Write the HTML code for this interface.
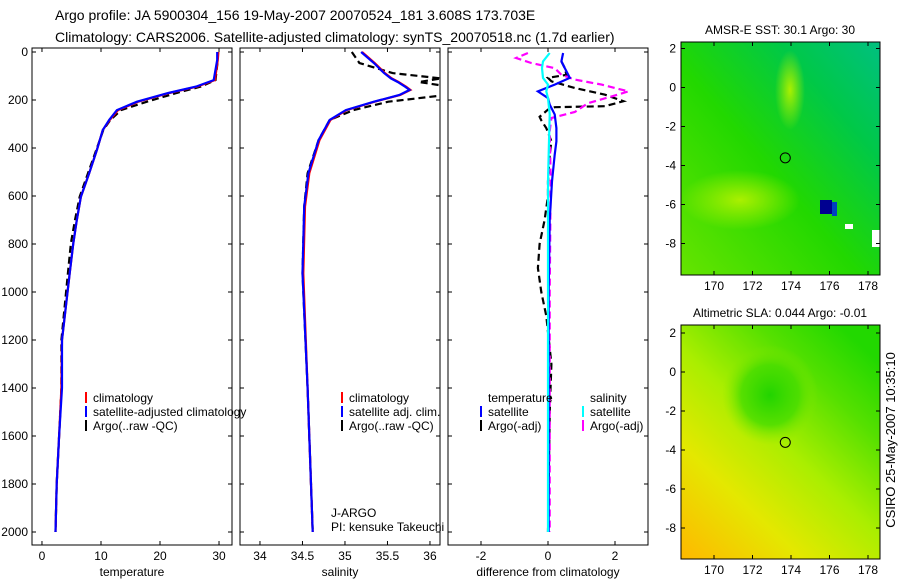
<!DOCTYPE html>
<html><head><meta charset="utf-8">
<style>
body{margin:0;background:#fff;}
svg{display:block;font-family:"Liberation Sans",sans-serif;}
text{fill:#000;}
</style></head>
<body>
<svg id="fig" width="900" height="580" viewBox="0 0 900 580" xmlns="http://www.w3.org/2000/svg">
<defs>
<linearGradient id="sstg" x1="0" y1="1" x2="1" y2="0">
<stop offset="0" stop-color="#66e400"/><stop offset="0.45" stop-color="#22d800"/><stop offset="0.75" stop-color="#00c848"/><stop offset="1" stop-color="#00c080"/>
</linearGradient>
<linearGradient id="slag" x1="0" y1="1" x2="0.8" y2="0">
<stop offset="0" stop-color="#ffb800"/><stop offset="0.3" stop-color="#e4e800"/><stop offset="0.55" stop-color="#aaee00"/><stop offset="0.8" stop-color="#55e000"/><stop offset="1" stop-color="#22d800"/>
</linearGradient>
<radialGradient id="slahole" cx="0.5" cy="0.5" r="0.5"><stop offset="0" stop-color="#22d400"/><stop offset="0.6" stop-color="#44dc00" stop-opacity="0.8"/><stop offset="1" stop-color="#88e800" stop-opacity="0"/></radialGradient>
<radialGradient id="sstwarm" cx="0.5" cy="0.5" r="0.5"><stop offset="0" stop-color="#aaf000"/><stop offset="1" stop-color="#aaf000" stop-opacity="0"/></radialGradient>
</defs>
<g>
<text x="55" y="20" font-size="14">Argo profile: JA 5900304_156 19-May-2007 20070524_181 3.608S 173.703E</text>
<text x="55" y="42" font-size="14">Climatology: CARS2006. Satellite-adjusted climatology: synTS_20070518.nc (1.7d earlier)</text>
</g>
<g id="panels"></g>
<g id="maps"></g>
<text font-size="13" transform="translate(895,440) rotate(-90)" text-anchor="middle">CSIRO 25-May-2007 10:35:10</text>
</svg>
<script>
// ---- data ----
const depthT = [0,33,117,144,171,207,242,283,325,408,505,603,700,797,922,1200,1400,1600,1800,2000];
const tempClim = [29.9,29.8,29.3,26.3,21.6,16.3,12.9,11.5,10.3,9.3,8.0,6.6,5.9,5.3,4.7,3.4,3.3,2.9,2.5,2.3];
const tempSat  = [29.7,29.7,29.1,26.1,21.4,16.1,12.7,11.4,10.3,9.3,8.0,6.6,5.9,5.3,4.7,3.4,3.4,2.9,2.5,2.3];
const tempArgo = [29.8,29.8,29.4,26.9,22.8,17.8,13.4,11.6,10.4,9.2,7.8,6.4,5.6,4.9,4.4,3.3,3.3,2.9,2.5,2.3];
const depthS = [0,46,88,110,125,145,158,179,207,242,283,367,505,644,922,1400,1600,1800,2000];
const salClim = [35.20,35.35,35.47,35.55,35.63,35.72,35.77,35.65,35.35,35.02,34.83,34.70,34.58,34.53,34.51,34.56,34.58,34.60,34.62];
const salSat  = [35.19,35.34,35.46,35.54,35.62,35.71,35.76,35.64,35.34,35.01,34.82,34.69,34.57,34.52,34.50,34.56,34.58,34.60,34.62];
const salArgo = [35.08,35.17,35.56,36.13,35.87,36.24,36.29,36.19,35.51,35.10,34.82,34.69,34.56,34.52,34.50,34.56,34.58,34.60,34.62];
const depthTS = [4,39,67,108,136,164,192,219,260,317,372,428,539,700,1000,1500,2000];
const diffTSat = [0.45,0.40,0.50,0.65,0.20,-0.30,0.00,0.05,0.20,0.25,0.25,0.20,0.12,0.05,0.02,0.02,0.02];
const depthSS = [4,39,67,108,136,164,192,260,372,539,1000,1500,2000];
const diffSSat = [0.05,-0.15,-0.18,-0.15,0.00,-0.05,0.00,0.05,0.03,0.00,0.00,0.00,0.00];
const depthTA = [39,67,95,108,122,150,178,205,226,230,240,270,285,317,372,428,539,600,700,800,900,1000,1100,1300,1500,2000];
const diffTArgo = [0.40,0.50,0.55,0.00,0.10,0.80,1.70,2.25,1.70,0.20,0.00,-0.25,-0.20,-0.05,0.10,0.05,0.00,0.00,-0.10,-0.25,-0.30,-0.20,-0.05,0.10,0.05,0.00];
const depthSA = [4,25,46,67,95,115,136,164,185,213,250,275,330,539,1000,1500,2000];
const diffSArgo = [-0.60,-0.95,-0.50,0.20,0.40,0.80,1.60,2.40,1.90,1.20,0.80,0.10,0.05,0.08,0.05,0.05,0.05];
const depthTicks = [0,200,400,600,800,1000,1200,1400,1600,1800,2000];
const tempTicks = [0,10,20,30];
const salTicks = [34,34.5,35,35.5,36];
const diffTicks = [-2,0,2];
const lonTicks = [170,172,174,176,178];
const latTicks = [2,0,-2,-4,-6,-8];
const argoLon = 173.703, argoLat = -3.608;
// ---- drawing ----
const NS='http://www.w3.org/2000/svg';
function mk(tag, attrs, parent){const e=document.createElementNS(NS,tag);for(const k in attrs)e.setAttribute(k,attrs[k]);parent.appendChild(e);return e;}
const panelsG=document.getElementById('panels');
const defs=document.querySelector('defs');
const Y0=52, Y1=545;
function yD(d){return Y0+d*0.24;}
const panels=[
 {name:'temperature-panel',x0:32,x1:232,lo:-1.69,hi:32.2,ticks:tempTicks,label:'temperature',showY:true},
 {name:'salinity-panel',x0:240,x1:440,lo:33.765,hi:36.118,ticks:salTicks,label:'salinity',showY:false},
 {name:'difference-panel',x0:448,x1:648,lo:-2.985,hi:2.985,ticks:diffTicks,label:'difference from climatology',showY:false}
];
function xf(p){return v=>p.x0+(v-p.lo)/(p.hi-p.lo)*(p.x1-p.x0);}
function line(p,g,depths,vals,color,dash,name){
 const X=xf(p);
 const d=depths.map((dd,i)=>(i?'L':'M')+X(vals[i]).toFixed(1)+','+yD(dd).toFixed(1)).join('');
 const e=mk('path',{d:d,fill:'none',stroke:color,'stroke-width':2.2,'stroke-dasharray':dash||'none','clip-path':'url(#'+p.name+'-clip)'},g);
 
 
}
panels.forEach((p,pi)=>{
 const cp=mk('clipPath',{id:p.name+'-clip'},defs);
 mk('rect',{x:p.x0,y:Y0-4,width:p.x1-p.x0,height:Y1-Y0+4},cp);
 const g=mk('g',{},panelsG);
 
 
 const X=xf(p);
 const fr=mk('rect',{x:p.x0,y:Y0-4,width:p.x1-p.x0,height:Y1-Y0+4,fill:'none',stroke:'#000','stroke-width':1},g);
 
 
 depthTicks.forEach(d=>{
  mk('line',{x1:p.x0,x2:p.x0+4,y1:yD(d),y2:yD(d),stroke:'#000'},g);
  mk('line',{x1:p.x1,x2:p.x1-4,y1:yD(d),y2:yD(d),stroke:'#000'},g);
  if(p.showY){const t=mk('text',{x:28,y:yD(d)+4,'font-size':12,'text-anchor':'end'},g);t.textContent=d;
   
   }
 });
 p.ticks.forEach(v=>{
  mk('line',{x1:X(v),x2:X(v),y1:Y1,y2:Y1-4,stroke:'#000'},g);
  mk('line',{x1:X(v),x2:X(v),y1:Y0-4,y2:Y0,stroke:'#000'},g);
  const t=mk('text',{x:X(v),y:560,'font-size':12,'text-anchor':'middle'},g);t.textContent=v;
  
  
 });
 const xl=mk('text',{x:(p.x0+p.x1)/2,y:576,'font-size':12,'text-anchor':'middle'},g);xl.textContent=p.label;
 
 
 if(pi===0){
  line(p,g,depthT,tempArgo,'#000','7,4','argo-temperature-line');
  line(p,g,depthT,tempClim,'#f00','','climatology-temperature-line');
  line(p,g,depthT,tempSat,'#00f','','satellite-temperature-line');
 } else if(pi===1){
  line(p,g,depthS,salArgo,'#000','7,4','argo-salinity-line');
  line(p,g,depthS,salClim,'#f00','','climatology-salinity-line');
  line(p,g,depthS,salSat,'#00f','','satellite-salinity-line');
 } else {
  line(p,g,depthTA,diffTArgo,'#000','7,4','argo-temp-diff-line');
  line(p,g,depthSA,diffSArgo,'#f0f','7,4','argo-sal-diff-line');
  line(p,g,depthTS,diffTSat,'#00f','','satellite-temp-diff-line');
  line(p,g,depthSS,diffSSat,'#0ff','','satellite-sal-diff-line');
 }
});
function legend(x,y,color,label){
 const g=mk('g',{},panelsG);
 
 
 mk('line',{x1:x,x2:x,y1:y-10,y2:y+1,stroke:color,'stroke-width':2},g);
 const t=mk('text',{x:x+7,y:y,'font-size':12},g);t.textContent=label;
}
legend(86,402,'#f00','climatology');legend(86,416,'#00f','satellite-adjusted climatology');legend(86,430,'#000','Argo(..raw -QC)');
legend(342,402,'#f00','climatology');legend(342,416,'#00f','satellite adj. clim.');legend(342,430,'#000','Argo(..raw -QC)');
(function(){const t=mk('text',{x:488,y:402,'font-size':12},panelsG);t.textContent='temperature';
 
 const s=mk('text',{x:590,y:402,'font-size':12},panelsG);s.textContent='salinity';
 })();
legend(481,416,'#00f','satellite');legend(481,430,'#000','Argo(-adj)');
legend(583,416,'#0ff','satellite');legend(583,430,'#f0f','Argo(-adj)');
(function(){const t=mk('text',{x:331,y:517,'font-size':12},panelsG);t.textContent='J-ARGO';
 
 const s=mk('text',{x:331,y:531,'font-size':12},panelsG);s.textContent='PI: kensuke Takeuchi';
 })();
// maps
const mapsG=document.getElementById('maps');
function lonX(l){return 714+19.25*(l-170);}
function drawMap(top,bottom,lat2y,fill,title,name,extra){
 const g=mk('g',{},mapsG);
 
 
 mk('rect',{x:681,y:top,width:199,height:bottom-top,fill:'url(#'+fill+')'},g);
 extra(g);
 const c=mk('circle',{cx:lonX(argoLon),cy:lat2y(argoLat),r:5,fill:'none',stroke:'#000'},g);
 
 
 mk('rect',{x:681,y:top,width:199,height:bottom-top,fill:'none',stroke:'#000'},g);
 lonTicks.forEach(l=>{mk('line',{x1:lonX(l),x2:lonX(l),y1:bottom,y2:bottom-4,stroke:'#000'},g);
  mk('line',{x1:lonX(l),x2:lonX(l),y1:top,y2:top+4,stroke:'#000'},g);
  const t=mk('text',{x:lonX(l),y:bottom+15,'font-size':12,'text-anchor':'middle'},g);t.textContent=l;
  });
 latTicks.forEach(a=>{mk('line',{x1:681,x2:685,y1:lat2y(a),y2:lat2y(a),stroke:'#000'},g);
  mk('line',{x1:880,x2:876,y1:lat2y(a),y2:lat2y(a),stroke:'#000'},g);
  const t=mk('text',{x:676,y:lat2y(a)+4,'font-size':12,'text-anchor':'end'},g);t.textContent=a;
  });
 const tt=mk('text',{x:780,y:top-8,'font-size':12,'text-anchor':'middle'},g);tt.textContent=title;
 
}
drawMap(42,275,a=>48.5+19.5*(2-a),'sstg','AMSR-E SST: 30.1 Argo: 30','sst-map',g=>{
 mk('ellipse',{cx:740,cy:200,rx:60,ry:30,fill:'url(#sstwarm)'},g);
 mk('ellipse',{cx:790,cy:90,rx:15,ry:40,fill:'url(#sstwarm)'},g);
 mk('rect',{x:820,y:200,width:12,height:14,fill:'#000090'},g);
 mk('rect',{x:832,y:202,width:5,height:14,fill:'#0040c0'},g);
 mk('rect',{x:845,y:224,width:8,height:5,fill:'#fff'},g);
 mk('rect',{x:872,y:230,width:8,height:17,fill:'#fff'},g);
});
drawMap(325,559,a=>333+19.5*(2-a),'slag','Altimetric SLA: 0.044 Argo: -0.01','sla-map',g=>{
 mk('ellipse',{cx:770,cy:395,rx:48,ry:50,fill:'url(#slahole)'},g);
});
</script>
</body></html>
